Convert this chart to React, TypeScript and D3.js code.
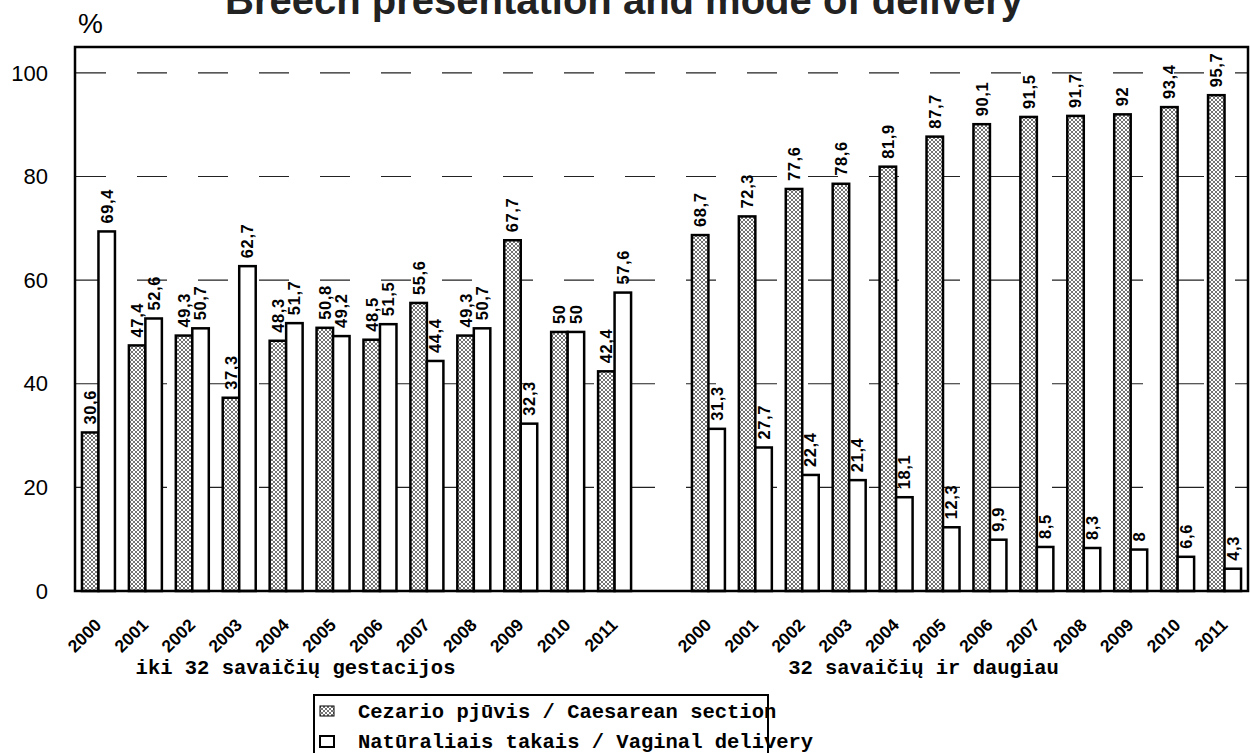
import * as d3 from "d3";
import React from "react";

// Breech presentation and mode of delivery (Lithuania, 2000-2011)
const years = ["2000", "2001", "2002", "2003", "2004", "2005", "2006", "2007", "2008", "2009", "2010", "2011"];
const groupLabels = ["iki 32 savaičių gestacijos", "32 savaičių ir daugiau"];

const caesareanEarly = [30.6, 47.4, 49.3, 37.3, 48.3, 50.8, 48.5, 55.6, 49.3, 67.7, 50, 42.4];
const vaginalEarly = [69.4, 52.6, 50.7, 62.7, 51.7, 49.2, 51.5, 44.4, 50.7, 32.3, 50, 57.6];
const caesareanLate = [68.7, 72.3, 77.6, 78.6, 81.9, 87.7, 90.1, 91.5, 91.7, 92, 93.4, 95.7];
const vaginalLate = [31.3, 27.7, 22.4, 21.4, 18.1, 12.3, 9.9, 8.5, 8.3, 8, 6.6, 4.3];

const yTicks = [0, 20, 40, 60, 80, 100];
const seriesNames = ["Cezario pjūvis / Caesarean section", "Natūraliais takais / Vaginal delivery"];

const W = 1250;
const H = 753;
const frame = { left: 75, right: 1248, top: 47, bottom: 591 };

const fmt = (v: number) => String(v).replace(".", ",");

export default function App() {
  // 12 slots, one empty gap slot, 12 slots
  const slots = [
    ...years.map((y) => `a${y}`),
    "gap",
    ...years.map((y) => `b${y}`),
  ];
  const x0 = d3
    .scaleBand<string>()
    .domain(slots)
    .range([frame.left, frame.right])
    .paddingInner(0.297)
    .paddingOuter(0.1485);
  const x1 = d3
    .scaleBand<string>()
    .domain(["c", "v"])
    .range([0, x0.bandwidth()])
    .padding(0);
  const y = d3.scaleLinear().domain([0, 105]).range([frame.bottom, frame.top]);

  const rows = [
    ...years.map((yr, i) => ({ slot: `a${yr}`, year: yr, c: caesareanEarly[i], v: vaginalEarly[i] })),
    ...years.map((yr, i) => ({ slot: `b${yr}`, year: yr, c: caesareanLate[i], v: vaginalLate[i] })),
  ];

  const sans = "'Liberation Sans', Arial, sans-serif";
  const mono = "'Liberation Mono', 'Courier New', monospace";

  const groupCenter = (g: string) => {
    const first = x0(`${g}2000`)!;
    const last = x0(`${g}2011`)! + x0.bandwidth();
    return (first + last) / 2;
  };

  return (
    <svg
      width={W}
      height={H}
      style={{ position: "absolute", left: 0, top: 0, background: "#fff" }}
    >
      <defs>
        <pattern id="hatch" width="4" height="4" patternUnits="userSpaceOnUse">
          <rect width="4" height="4" fill="#fff" />
          <path d="M0,0 L4,4 M4,0 L0,4" stroke="#000" strokeWidth="0.55" />
        </pattern>
      </defs>

      {/* title (cut off at the top like the source) */}
      <text
        x={624}
        y={14}
        textAnchor="middle"
        fontFamily={sans}
        fontWeight="bold"
        fontSize={40}
        fill="#222"
      >
        Breech presentation and mode of delivery
      </text>
      <text x={78} y={33} fontFamily={sans} fontSize={28}>
        %
      </text>

      {/* gridlines */}
      {yTicks
        .filter((t) => t > 0)
        .map((t) => (
          <line
            key={t}
            x1={frame.left}
            x2={frame.right}
            y1={y(t)}
            y2={y(t)}
            stroke="#222"
            strokeWidth={1.2}
            strokeDasharray="30 31"
            strokeDashoffset={-1}
          />
        ))}

      {/* y tick labels */}
      {yTicks.map((t) => (
        <text
          key={t}
          x={48}
          y={y(t)}
          dy="0.35em"
          textAnchor="end"
          fontFamily={sans}
          fontSize={22}
        >
          {t}
        </text>
      ))}

      {/* bars */}
      {rows.map((r) => {
        const bx = x0(r.slot)!;
        return (
          <g key={r.slot}>
            {(["c", "v"] as const).map((k) => {
              const val = r[k];
              const xx = bx + x1(k)!;
              const cx = xx + x1.bandwidth() / 2;
              return (
                <g key={k}>
                  <rect
                    x={xx}
                    y={y(val)}
                    width={x1.bandwidth()}
                    height={y(0) - y(val)}
                    fill={k === "c" ? "url(#hatch)" : "#fff"}
                    stroke="#000"
                    strokeWidth={2.5}
                  />
                  <text
                    transform={`translate(${cx},${y(val) - 8}) rotate(-90)`}
                    dy="0.36em"
                    fontFamily={sans}
                    fontWeight="bold"
                    fontSize={16.5}
                    letterSpacing={0.6}
                  >
                    {fmt(val)}
                  </text>
                </g>
              );
            })}
            <text
              transform={`translate(${bx + x0.bandwidth() / 2 + 4},626) rotate(-45)`}
              textAnchor="end"
              fontFamily={sans}
              fontWeight="bold"
              fontSize={17.5}
            >
              {r.year}
            </text>
          </g>
        );
      })}

      {/* frame */}
      <rect
        x={frame.left}
        y={frame.top}
        width={frame.right - frame.left}
        height={frame.bottom - frame.top}
        fill="none"
        stroke="#000"
        strokeWidth={2.5}
      />

      {/* group labels */}
      <text x={groupCenter("a") - 61} y={674} textAnchor="middle" fontFamily={mono} fontWeight="bold" fontSize={20.5}>
        {groupLabels[0]}
      </text>
      <text x={groupCenter("b") - 43} y={674} textAnchor="middle" fontFamily={mono} fontWeight="bold" fontSize={20.5}>
        {groupLabels[1]}
      </text>

      {/* legend */}
      <rect x={314} y={695} width={454} height={70} fill="#fff" stroke="#000" strokeWidth={2} />
      {seriesNames.map((s, i) => (
        <g key={s} transform={`translate(0,${711 + i * 30})`}>
          <rect
            x={320}
            y={-5}
            width={14}
            height={i === 0 ? 10 : 11}
            fill={i === 0 ? "url(#hatch)" : "#fff"}
            stroke="#000"
            strokeWidth={i === 0 ? 1 : 2}
          />
          <text x={358} y={0} dy="0.35em" fontFamily={mono} fontWeight="bold" fontSize={20.5}>
            {s}
          </text>
        </g>
      ))}
    </svg>
  );
}
